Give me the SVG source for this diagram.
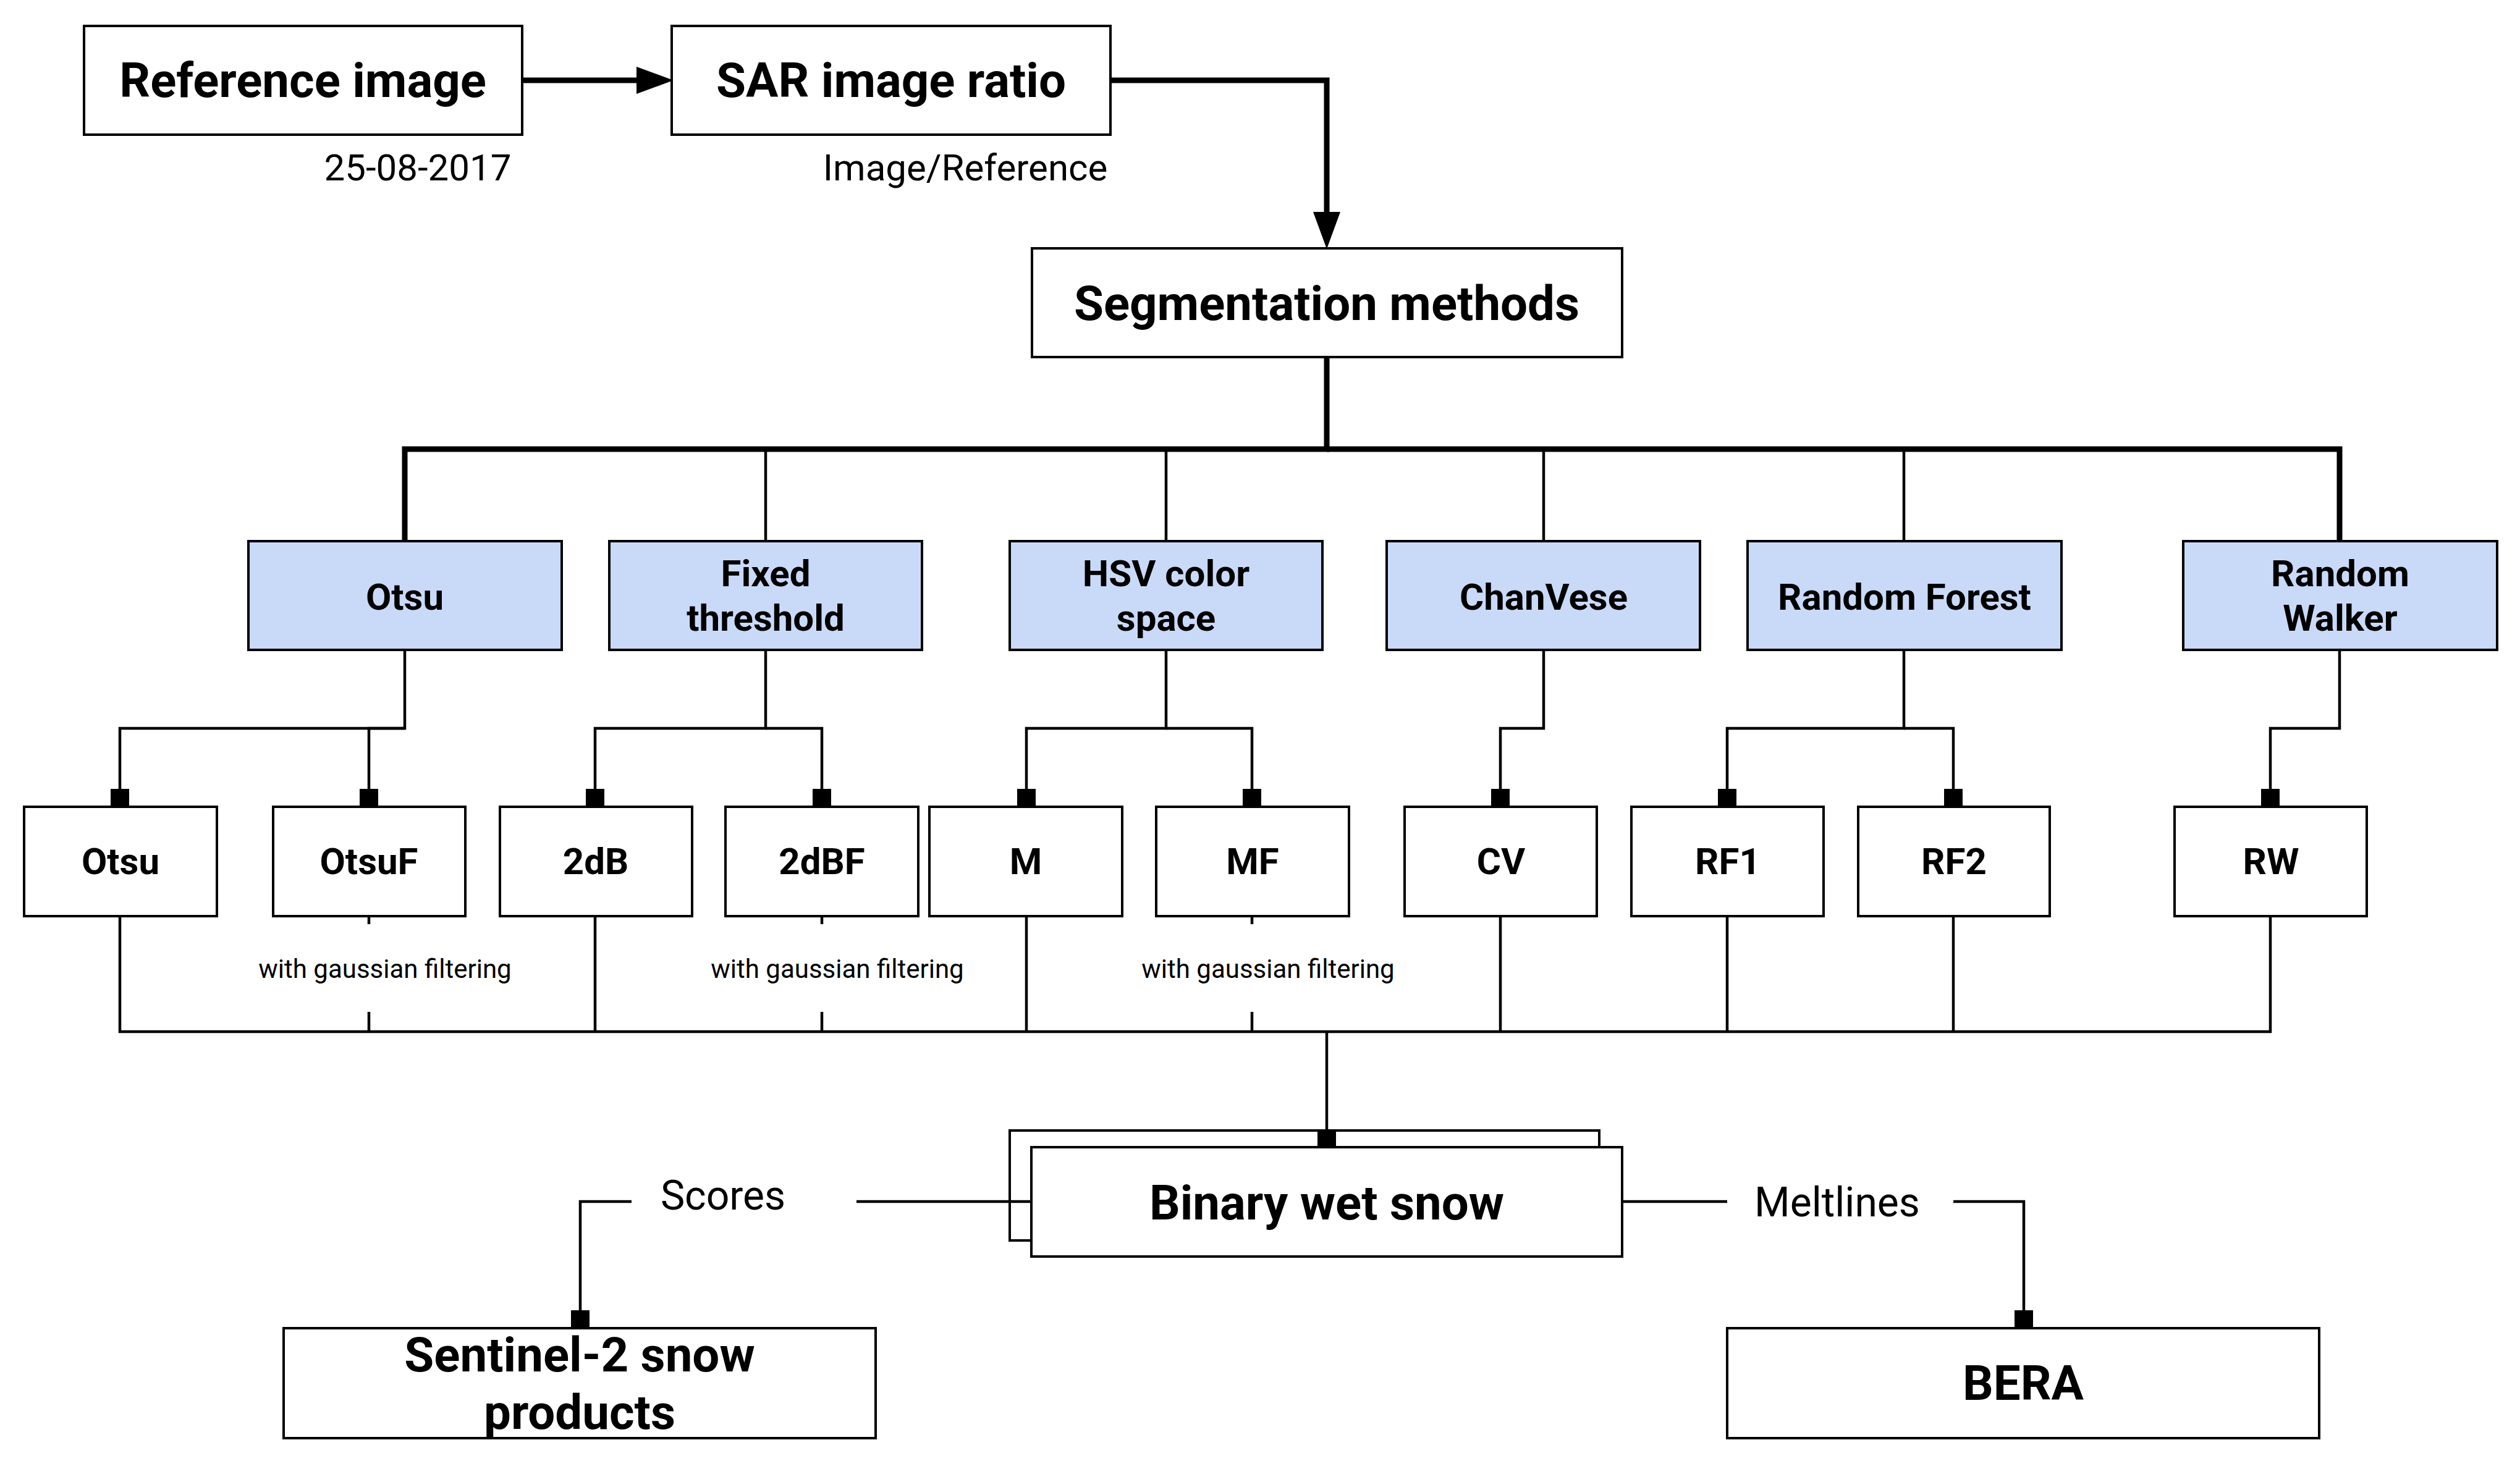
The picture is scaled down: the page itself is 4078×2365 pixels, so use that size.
<svg xmlns="http://www.w3.org/2000/svg" width="4078" height="2365" viewBox="0 0 4078 2365">
<style>
.box{fill:#ffffff;stroke:#000;stroke-width:4}
.mbox{fill:#c9daf8;stroke:#000;stroke-width:4}
.thick{fill:none;stroke:#000;stroke-width:9;stroke-linejoin:miter}
.thin{fill:none;stroke:#000;stroke-width:4.5;stroke-linejoin:miter}
text{font-family:Roboto,"Liberation Sans",Arial,sans-serif;text-anchor:middle;fill:#000}
.tb{font-weight:700;font-size:78px}
.tm{font-weight:700;font-size:60px}
.tl{font-size:60px}
.te{font-size:66px}
.ts{font-size:42px}
</style>
<defs>
<marker id="arrow" viewBox="0 0 60 44" refX="0" refY="22" markerWidth="60" markerHeight="44" markerUnits="userSpaceOnUse" orient="auto">
<path d="M0,0 L60,22 L0,44 Z" fill="#000"/>
</marker>
<marker id="sq" viewBox="0 0 29 30" refX="29" refY="15" markerWidth="29" markerHeight="30" markerUnits="userSpaceOnUse" orient="auto">
<path d="M0,0 H29 V30 H0 Z" fill="#000"/>
</marker>
</defs>
<rect width="4078" height="2365" fill="#ffffff"/>

<g id="node-binary-wet-snow">
<rect class="box" x="1634" y="1830" width="954" height="178"/>
<rect class="box" x="1669" y="1857" width="956" height="177"/>
<text class="tb" x="2147" y="1974">Binary wet snow</text>
</g>

<g id="connectors">
<path class="thick" d="M845,130 H1030" marker-end="url(#arrow)"/>
<path class="thick" d="M1797,130 H2147 V343" marker-end="url(#arrow)"/>
<path class="thick" d="M2147,578 V727 H655 V876"/>
<path class="thick" d="M2147,727 H3786 V876"/>
<path class="thin" d="M1239,727 V876"/>
<path class="thin" d="M1887,727 V876"/>
<path class="thin" d="M2498,727 V876"/>
<path class="thin" d="M3081,727 V876"/>

<path class="thin" d="M655,1052 V1179 H194 V1306" marker-end="url(#sq)"/>
<path class="thin" d="M655,1179 H597 V1306" marker-end="url(#sq)"/>
<path class="thin" d="M1239,1052 V1179 H963 V1306" marker-end="url(#sq)"/>
<path class="thin" d="M1239,1179 H1330 V1306" marker-end="url(#sq)"/>
<path class="thin" d="M1887,1052 V1179 H1661 V1306" marker-end="url(#sq)"/>
<path class="thin" d="M1887,1179 H2026 V1306" marker-end="url(#sq)"/>
<path class="thin" d="M2498,1052 V1179 H2428 V1306" marker-end="url(#sq)"/>
<path class="thin" d="M3081,1052 V1179 H2795 V1306" marker-end="url(#sq)"/>
<path class="thin" d="M3081,1179 H3161 V1306" marker-end="url(#sq)"/>
<path class="thin" d="M3786,1052 V1179 H3674 V1306" marker-end="url(#sq)"/>

<path class="thin" d="M194,1484 V1670 H3674 V1484"/>
<path class="thin" d="M963,1484 V1670"/>
<path class="thin" d="M1661,1484 V1670"/>
<path class="thin" d="M2428,1484 V1670"/>
<path class="thin" d="M2795,1484 V1670"/>
<path class="thin" d="M3161,1484 V1670"/>
<path class="thin" d="M597,1484 V1496 M597,1638 V1670"/>
<path class="thin" d="M1330,1484 V1496 M1330,1638 V1670"/>
<path class="thin" d="M2026,1484 V1496 M2026,1638 V1670"/>
<text class="ts" x="623" y="1583">with gaussian filtering</text>
<text class="ts" x="1355" y="1583">with gaussian filtering</text>
<text class="ts" x="2052" y="1583">with gaussian filtering</text>

<path class="thin" d="M2147,1670 V1857" marker-end="url(#sq)"/>

<path class="thin" d="M1669,1945 H1386"/>
<path class="thin" d="M1022,1945 H939 V2150" marker-end="url(#sq)"/>
<text class="te" x="1170" y="1958">Scores</text>
<path class="thin" d="M2625,1945 H2795"/>
<path class="thin" d="M3161,1945 H3275 V2150" marker-end="url(#sq)"/>
<text class="te" x="2973" y="1969">Meltlines</text>
</g>

<g id="node-reference">
<rect class="box" x="136" y="42" width="709" height="176"/>
<text class="tb" x="490" y="157">Reference image</text>
<text class="tl" x="676" y="292">25-08-2017</text>
</g>
<g id="node-sar">
<rect class="box" x="1087" y="42" width="710" height="176"/>
<text class="tb" x="1442" y="157">SAR image ratio</text>
<text class="tl" x="1562" y="292">Image/Reference</text>
</g>
<g id="node-segmentation">
<rect class="box" x="1670" y="402" width="955" height="176"/>
<text class="tb" x="2147" y="518">Segmentation methods</text>
</g>

<g id="node-otsu-method">
<rect class="mbox" x="402" y="876" width="507" height="176"/>
<text class="tm" x="655" y="987">Otsu</text>
</g>
<g id="node-fixed-threshold">
<rect class="mbox" x="986" y="876" width="506" height="176"/>
<text class="tm" x="1239" y="949">Fixed</text>
<text class="tm" x="1239" y="1021">threshold</text>
</g>
<g id="node-hsv">
<rect class="mbox" x="1634" y="876" width="506" height="176"/>
<text class="tm" x="1887" y="949">HSV color</text>
<text class="tm" x="1887" y="1021">space</text>
</g>
<g id="node-chanvese">
<rect class="mbox" x="2244" y="876" width="507" height="176"/>
<text class="tm" x="2498" y="987">ChanVese</text>
</g>
<g id="node-random-forest">
<rect class="mbox" x="2828" y="876" width="508" height="176"/>
<text class="tm" x="3082" y="987">Random Forest</text>
</g>
<g id="node-random-walker">
<rect class="mbox" x="3533" y="876" width="508" height="176"/>
<text class="tm" x="3787" y="949">Random</text>
<text class="tm" x="3787" y="1021">Walker</text>
</g>

<g id="node-otsu"><rect class="box" x="39" y="1306" width="312" height="177"/><text class="tm" x="195" y="1415">Otsu</text></g>
<g id="node-otsuf"><rect class="box" x="442" y="1306" width="311" height="177"/><text class="tm" x="597" y="1415">OtsuF</text></g>
<g id="node-2db"><rect class="box" x="809" y="1306" width="311" height="177"/><text class="tm" x="964" y="1415">2dB</text></g>
<g id="node-2dbf"><rect class="box" x="1174" y="1306" width="312" height="177"/><text class="tm" x="1330" y="1415">2dBF</text></g>
<g id="node-m"><rect class="box" x="1504" y="1306" width="312" height="177"/><text class="tm" x="1660" y="1415">M</text></g>
<g id="node-mf"><rect class="box" x="1871" y="1306" width="312" height="177"/><text class="tm" x="2027" y="1415">MF</text></g>
<g id="node-cv"><rect class="box" x="2273" y="1306" width="311" height="177"/><text class="tm" x="2429" y="1415">CV</text></g>
<g id="node-rf1"><rect class="box" x="2640" y="1306" width="311" height="177"/><text class="tm" x="2796" y="1415">RF1</text></g>
<g id="node-rf2"><rect class="box" x="3007" y="1306" width="310" height="177"/><text class="tm" x="3162" y="1415">RF2</text></g>
<g id="node-rw"><rect class="box" x="3519" y="1306" width="311" height="177"/><text class="tm" x="3675" y="1415">RW</text></g>

<g id="node-sentinel">
<rect class="box" x="459" y="2150" width="958" height="178"/>
<text class="tb" x="938" y="2220">Sentinel-2 snow</text>
<text class="tb" x="938" y="2313">products</text>
</g>
<g id="node-bera">
<rect class="box" x="2795" y="2150" width="958" height="178"/>
<text class="tb" x="3274" y="2266">BERA</text>
</g>
</svg>
